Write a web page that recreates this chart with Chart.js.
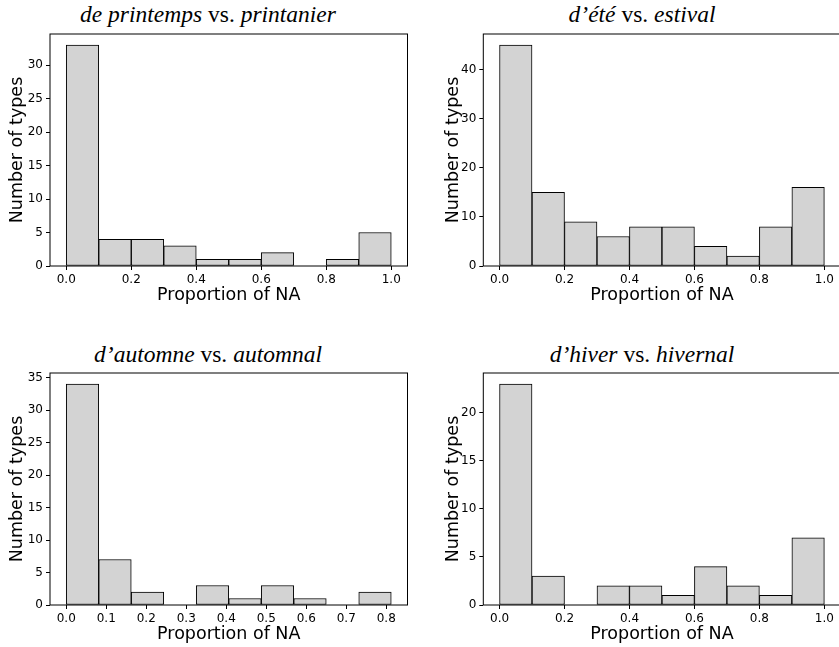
<!DOCTYPE html>
<html lang="fr">
<head>
<meta charset="UTF-8">
<title>Proportion of NA histograms</title>
<script src="https://cdn.jsdelivr.net/npm/chart.js"></script>
<style>
  html, body { margin: 0; padding: 0; background: #fff; overflow: hidden; }
  body { width: 839px; height: 647px; position: relative; }
  canvas { position: absolute; }
  .ttl {
    position: absolute; width: 400px; text-align: center;
    font-family: "Liberation Serif", "DejaVu Serif", serif;
    font-size: 23.5px; line-height: 23.5px; color: #000; white-space: nowrap;
  }
  .ttl i { font-style: italic; }
</style>
</head>
<body>
<div class="ttl" style="left:8px;top:3px"><i>de printemps</i> vs. <i>printanier</i></div>
<div class="ttl" style="left:442px;top:3px"><i>d’été</i> vs. <i>estival</i></div>
<div class="ttl" style="left:8px;top:343px"><i>d’automne</i> vs. <i>automnal</i></div>
<div class="ttl" style="left:442px;top:343px"><i>d’hiver</i> vs. <i>hivernal</i></div>

<canvas id="c1" width="420" height="310" style="left:0;top:0"></canvas>
<canvas id="c2" width="410" height="310" style="left:436px;top:0"></canvas>
<canvas id="c3" width="420" height="310" style="left:0;top:339px"></canvas>
<canvas id="c4" width="410" height="310" style="left:436px;top:339px"></canvas>

<script>
// bin edges and counts
const edgesSpring = [0, 0.1, 0.2, 0.3, 0.4, 0.5, 0.6, 0.7, 0.8, 0.9, 1.0];
const countsSpring = [33, 4, 4, 3, 1, 1, 2, 0, 1, 5];
const edgesSummer = [0, 0.1, 0.2, 0.3, 0.4, 0.5, 0.6, 0.7, 0.8, 0.9, 1.0];
const countsSummer = [45, 15, 9, 6, 8, 8, 4, 2, 8, 16];
const edgesAutumn = [0, 0.08125, 0.1625, 0.24375, 0.325, 0.40625, 0.4875, 0.56875, 0.65, 0.73125, 0.8125];
const countsAutumn = [34, 7, 2, 0, 3, 1, 3, 1, 0, 2];
const edgesWinter = [0, 0.1, 0.2, 0.3, 0.4, 0.5, 0.6, 0.7, 0.8, 0.9, 1.0];
const countsWinter = [23, 3, 0, 2, 2, 1, 4, 2, 1, 7];

// tick labels
const xTicksUnit = [0.0, 0.2, 0.4, 0.6, 0.8, 1.0];
const xTicksAutumn = [0.0, 0.1, 0.2, 0.3, 0.4, 0.5, 0.6, 0.7, 0.8];
const yTicksSpring = [0, 5, 10, 15, 20, 25, 30];
const yTicksSummer = [0, 10, 20, 30, 40];
const yTicksAutumn = [0, 5, 10, 15, 20, 25, 30, 35];
const yTicksWinter = [0, 5, 10, 15, 20];

const xLabel = 'Proportion of NA';
const yLabel = 'Number of types';

// full box round the plot area, like matplotlib spines
const boxPlugin = {
  id: 'box',
  afterDraw(chart) {
    const a = chart.chartArea, ctx = chart.ctx;
    ctx.save();
    ctx.strokeStyle = '#000';
    ctx.lineWidth = 1;
    ctx.strokeRect(a.left, a.top, a.right - a.left, a.bottom - a.top);
    ctx.restore();
  }
};

function histo(id, edges, counts, xTicks, yTicks, yAxisW, padRight) {
  const pts = [];
  for (let i = 0; i < counts.length; i++) {
    pts.push({x: (edges[i] + edges[i + 1]) / 2, y: counts[i]});
  }
  const lo = edges[0], hi = edges[edges.length - 1];
  const m = (hi - lo) * 0.05;
  const ymax = Math.max(...counts) * 1.05;
  const tickFont = {family: 'DejaVu Sans', size: 12};
  const titleFont = {family: 'DejaVu Sans', size: 17.5};

  new Chart(document.getElementById(id), {
    type: 'bar',
    data: {
      datasets: [{
        data: pts,
        backgroundColor: '#d3d3d3',
        borderColor: '#000',
        borderWidth: 1,
        borderSkipped: false,
        barPercentage: 1,
        categoryPercentage: 1
      }]
    },
    options: {
      responsive: false,
      animation: false,
      layout: {padding: {left: 0, top: 34, right: padRight, bottom: 0}},
      plugins: {legend: {display: false}, tooltip: {enabled: false}},
      scales: {
        x: {
          type: 'linear',
          min: lo - m,
          max: hi + m,
          offset: false,
          afterBuildTicks: s => { s.ticks = xTicks.map(v => ({value: v})); },
          afterFit: s => { s.height = 44; },
          ticks: {
            font: tickFont, color: '#000', padding: 3, maxRotation: 0,
            callback: v => Number(v).toFixed(1)
          },
          grid: {display: true, drawOnChartArea: false, offset: false, tickLength: 4, color: '#000'},
          border: {display: false},
          title: {display: true, text: xLabel, font: titleFont, color: '#000', padding: {top: 0, bottom: 4.5}}
        },
        y: {
          min: 0,
          max: ymax,
          afterBuildTicks: s => { s.ticks = yTicks.map(v => ({value: v})); },
          afterFit: s => { s.width = yAxisW; },
          ticks: {font: tickFont, color: '#000', padding: 3},
          grid: {display: true, drawOnChartArea: false, tickLength: 4, color: '#000'},
          border: {display: false},
          title: {display: true, text: yLabel, font: titleFont, color: '#000', padding: {top: 6.5, bottom: 0}}
        }
      }
    },
    plugins: [boxPlugin]
  });
}

histo('c1', edgesSpring, countsSpring, xTicksUnit, yTicksSpring, 50, 12.5);
histo('c2', edgesSummer, countsSummer, xTicksUnit, yTicksSummer, 47.3, 5.4);
histo('c3', edgesAutumn, countsAutumn, xTicksAutumn, yTicksAutumn, 50, 12.5);
histo('c4', edgesWinter, countsWinter, xTicksUnit, yTicksWinter, 47.3, 5.4);
</script>
</body>
</html>
